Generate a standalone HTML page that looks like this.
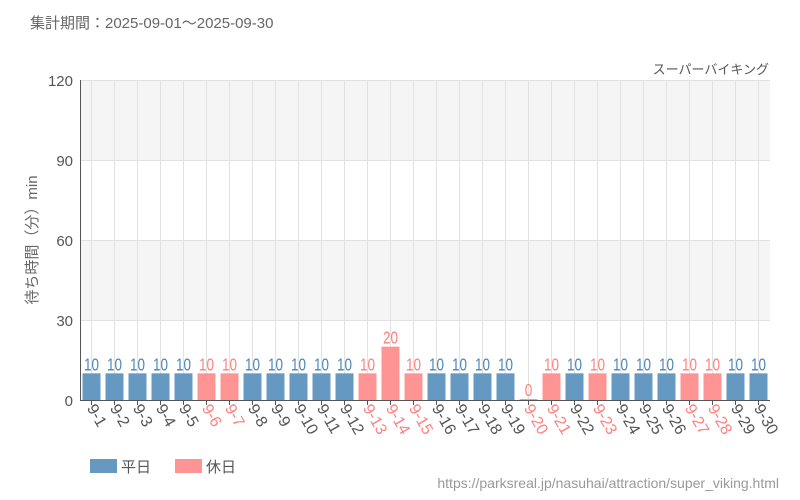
<!DOCTYPE html>
<html><head><meta charset="utf-8"><style>body{margin:0;background:#fff}svg{display:block}text{font-family:"Liberation Sans","Noto Sans CJK JP",sans-serif}</style></head><body>
<svg width="800" height="500" xmlns="http://www.w3.org/2000/svg">
<text x="30" y="28" font-size="15" fill="#666">集計期間：2025-09-01～2025-09-30</text>
<text x="769" y="74" font-size="13" fill="#555" text-anchor="end">スーパーバイキング</text>
<rect x="80" y="80" width="690" height="80" fill="#f5f5f5"/>
<rect x="80" y="240" width="690" height="80" fill="#f5f5f5"/>
<g stroke="#e2e2e2" stroke-width="1">
<line x1="80" y1="80.5" x2="770" y2="80.5"/><line x1="80" y1="160.5" x2="770" y2="160.5"/><line x1="80" y1="240.5" x2="770" y2="240.5"/><line x1="80" y1="320.5" x2="770" y2="320.5"/>
<g id="v"></g>
</g>
<g id="bars"></g>
<line x1="80.5" y1="80" x2="80.5" y2="400" stroke="#555"/>
<line x1="80" y1="400.5" x2="770" y2="400.5" stroke="#555"/>
<g font-size="15" fill="#555" text-anchor="end">
<text x="73" y="86">120</text><text x="73" y="166">90</text><text x="73" y="246">60</text><text x="73" y="326">30</text><text x="73" y="406">0</text>
</g>
<text transform="translate(37,240) rotate(-90)" font-size="15" fill="#666" text-anchor="middle">待ち時間（分）min</text>
<rect x="90" y="459" width="27" height="14" fill="#6699c2"/><text x="121" y="472" font-size="15" fill="#555">平日</text>
<rect x="175" y="459" width="27" height="14" fill="#ff9494"/><text x="206" y="472" font-size="15" fill="#555">休日</text>
<text x="779" y="488" font-size="14" fill="#999" text-anchor="end">https://parksreal.jp/nasuhai/attraction/super_viking.html</text>
<script>
var hol=[6,7,13,14,15,20,21,23,27,28];
var val={14:20,20:0};
var ns="http://www.w3.org/2000/svg",b=document.getElementById('bars'),v=document.getElementById('v');
for(var d=1;d<=30;d++){
 var cx=80+23*(d-0.5),h=hol.indexOf(d)>=0,c=h?'#ff9494':'#6699c2',tc=h?'#ff7f7f':'#4a86b8';
 var val1=(d in val)?val[d]:10;
 var l=document.createElementNS(ns,'line');l.setAttribute('x1',cx);l.setAttribute('x2',cx);l.setAttribute('y1',80);l.setAttribute('y2',400);v.appendChild(l);
 var hh=Math.max(val1*80/30,1);
 var r=document.createElementNS(ns,'rect');r.setAttribute('x',cx-9);r.setAttribute('width',18);r.setAttribute('y',400-hh);r.setAttribute('height',hh);r.setAttribute('fill',c);b.appendChild(r);
 var ty=400-hh-3;
 var t=document.createElementNS(ns,'text');t.setAttribute('text-anchor','middle');t.setAttribute('font-size','18');t.setAttribute('fill',tc);t.setAttribute('transform','translate('+cx+','+ty+') scale(0.75,1)');t.textContent=val1;b.appendChild(t);
 var tk=document.createElementNS(ns,'line');tk.setAttribute('x1',cx);tk.setAttribute('x2',cx);tk.setAttribute('y1',400);tk.setAttribute('y2',405);tk.setAttribute('stroke','#555');b.appendChild(tk);
 var lb=document.createElementNS(ns,'text');lb.setAttribute('transform','translate('+(cx-5)+',408) rotate(60)');lb.setAttribute('font-size','16');lb.setAttribute('fill',h?'#ff8080':'#555');lb.textContent='9-'+d;b.appendChild(lb);
}
</script>
</svg>
</body></html>
